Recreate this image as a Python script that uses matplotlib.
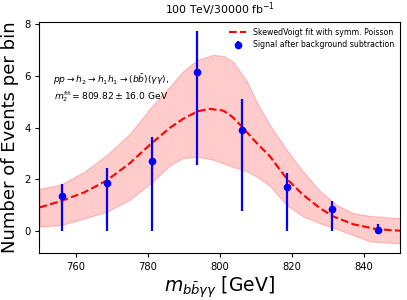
import numpy as np
import matplotlib.pyplot as plt

# binned signal after background subtraction
bin_centers = [756.25, 768.75, 781.25, 793.75, 806.25, 818.75, 831.25, 843.75]
counts = [1.36, 1.84, 2.72, 6.14, 3.93, 1.69, 0.87, 0.05]
err_low_end = [0.0, 0.0, 0.0, 2.54, 0.78, 0.0, 0.0, 0.0]
err_high_end = [1.82, 2.44, 3.65, 7.76, 5.10, 2.25, 1.17, 0.28]

# SkewedVoigt fit curve
fit_x = [750, 756, 762.5, 768.7, 775, 781, 786.2, 789.9, 793.9, 797.3, 801,
         803.5, 806.2, 810.2, 813.9, 818.7, 823.1, 827.8, 831.5, 837, 843.5, 850]
fit_y = [0.91, 1.16, 1.50, 1.96, 2.62, 3.39, 4.00, 4.35, 4.64, 4.73, 4.66,
         4.42, 4.03, 3.41, 2.89, 2.00, 1.40, 0.88, 0.56, 0.26, 0.07, 0.01]

# uncertainty band edges
band_x = [750, 756, 762.5, 768.7, 775, 781, 786.2, 789.9, 793.9, 798.2, 801,
          803.7, 807.5, 810.2, 813.9, 818.5, 823.1, 827.8, 832.4, 837, 841.6, 850]
band_hi = [1.63, 1.80, 2.30, 2.95, 3.75, 4.80, 5.60, 6.20, 6.63, 6.82, 6.78,
           6.55, 5.80, 5.00, 4.10, 3.15, 2.30, 1.55, 1.00, 0.69, 0.58, 0.49]
band_lo = [0.17, 0.23, 0.49, 0.75, 1.21, 1.87, 2.55, 2.83, 2.87, 2.76, 2.62,
           2.48, 2.31, 2.11, 1.75, 1.01, 0.56, 0.30, 0.08, -0.16, -0.40, -0.48]

counts = np.array(counts)
yerr = [counts - np.array(err_low_end), np.array(err_high_end) - counts]

fig = plt.figure(figsize=(4.07, 3.0), dpi=100)
ax = fig.add_axes([0.097, 0.157, 0.886, 0.77])

ax.fill_between(band_x, band_lo, band_hi, color='#ff9999', alpha=0.5,
                edgecolor='#ff8080', linewidth=0.8)
ax.plot(fit_x, fit_y, 'r--', lw=1.5, label='SkewedVoigt fit with symm. Poisson')
ax.errorbar(bin_centers, counts, yerr=yerr, fmt='o', color='blue', ms=4.5,
            elinewidth=1.6, capsize=0, label='Signal after background subtraction')

ax.text(769.8, 5.55,
        r'$pp\rightarrow h_2\rightarrow h_1h_1\rightarrow(b\bar{b})(\gamma\gamma)$,' '\n'
        r'$m_2^{\rm fit}=809.82\pm16.0$ GeV',
        ha='center', va='center', fontsize=6.6)

ax.set_xlim(750, 850)
ax.set_ylim(-0.85, 8.1)
ax.set_xticks([760, 780, 800, 820, 840])
ax.set_yticks([0, 2, 4, 6, 8])
ax.tick_params(labelsize=7.2, length=3)
ax.set_title(r'100 TeV/30000 fb$^{-1}$', fontsize=7.8)
ax.set_xlabel(r'$m_{b\bar{b}\gamma\gamma}$ [GeV]', fontsize=13.5, labelpad=2)
ax.set_ylabel('Number of Events per bin', fontsize=13, labelpad=4)
ax.legend(loc='upper right', fontsize=5.6, frameon=False, handlelength=2.2,
          borderaxespad=0.4, labelspacing=0.4)

plt.savefig('out.png', dpi=100)
